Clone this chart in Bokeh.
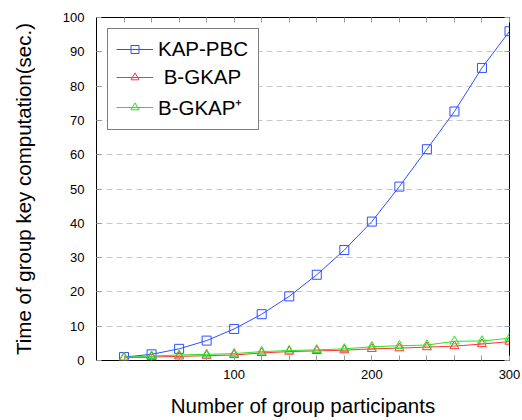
from bokeh.plotting import figure
from bokeh.models import Range1d, FixedTicker, LinearAxis, CustomLabelingPolicy
from bokeh.embed import file_html
from bokeh.resources import INLINE

participants = [20, 40, 60, 80, 100, 120, 140, 160, 180, 200, 220, 240, 260, 280, 300]
kap_pbc = [1.0, 1.8, 3.4, 5.8, 9.2, 13.5, 18.7, 25.0, 32.2, 40.5, 50.7, 61.6, 72.6, 85.3, 96.0]
b_gkap = [0.8, 1.0, 1.2, 1.4, 1.6, 2.2, 2.6, 2.8, 3.0, 3.4, 3.6, 3.9, 4.2, 4.8, 5.5]
b_gkap_plus = [0.9, 1.3, 1.6, 1.8, 2.0, 2.6, 2.9, 3.1, 3.4, 4.0, 4.3, 4.5, 5.6, 5.7, 6.5]

x_major_ticks = [100, 200, 300]
x_minor_ticks = [20, 40, 60, 80, 120, 140, 160, 180, 220, 240, 260, 280]
y_ticks = [0, 10, 20, 30, 40, 50, 60, 70, 80, 90, 100]

FONT = "Liberation Sans"

p = figure(width=522, height=420, output_backend="svg", toolbar_location=None,
           x_range=Range1d(0, 300), y_range=Range1d(0, 100),
           min_border_left=96, min_border_right=13, min_border_top=17, min_border_bottom=60)
p.background_fill_color = "white"
p.border_fill_color = "white"
p.outline_line_color = "#000000"
p.outline_line_width = 1

p.xgrid.grid_line_color = None
p.ygrid.ticker = FixedTicker(ticks=y_ticks)
p.ygrid.grid_line_color = "#c8c8c8"
p.ygrid.grid_line_dash = "6 4"
p.ygrid.grid_line_width = 1

def style_axis(ax, ticker, show_labels):
    ax.ticker = ticker
    ax.axis_line_color = None
    ax.major_tick_in = 5
    ax.major_tick_out = 0
    ax.minor_tick_in = 5
    ax.minor_tick_out = 0
    ax.major_tick_line_color = "#999999"
    ax.minor_tick_line_color = "#999999"
    ax.major_tick_line_width = 1
    ax.minor_tick_line_width = 1
    ax.major_label_text_font = FONT
    ax.major_label_text_color = "#000000"
    ax.axis_label_text_font = FONT
    ax.axis_label_text_font_style = "normal"
    ax.axis_label_text_color = "#000000"
    if not show_labels:
        ax.major_label_text_font_size = "1px"
        ax.major_label_standoff = 0
        ax.major_label_policy = CustomLabelingPolicy(
            code="for (const i of indices) { indices.unset(i) } return indices")

def x_ticker():
    return FixedTicker(ticks=x_major_ticks, minor_ticks=x_minor_ticks)

def y_ticker():
    return FixedTicker(ticks=y_ticks, minor_ticks=[])

# bottom axis
xa = p.xaxis[0]
style_axis(xa, x_ticker(), True)
xa.major_label_text_font_size = "13px"
xa.major_label_standoff = 9
xa.axis_label = "Number of group participants"
xa.axis_label_text_font_size = "20.5px"
xa.axis_label_standoff = 12

# left axis
ya = p.yaxis[0]
style_axis(ya, y_ticker(), True)
ya.major_label_text_font_size = "13px"
ya.major_label_standoff = 12
ya.axis_label = "Time of group key computation(sec.)"
ya.axis_label_text_font_size = "20.5px"
ya.axis_label_standoff = 25

# top and right axes (ticks only)
top = LinearAxis()
style_axis(top, x_ticker(), False)
p.add_layout(top, "above")
right = LinearAxis()
style_axis(right, y_ticker(), False)
p.add_layout(right, "right")

BLUE = "#2f4fff"
RED = "#ff3333"
GREEN = "#22e622"

p.line(participants, kap_pbc, color=BLUE, line_width=1, legend_label="KAP-PBC")
p.scatter(participants, kap_pbc, marker="square", size=9, line_color=BLUE, fill_color=None,
          line_width=1, legend_label="KAP-PBC")
p.line(participants, b_gkap, color=RED, line_width=1, legend_label="\u00a0B-GKAP")
p.scatter(participants, b_gkap, marker="triangle", size=9, line_color=RED, fill_color=None,
          line_width=1, legend_label="\u00a0B-GKAP")
p.line(participants, b_gkap_plus, color=GREEN, line_width=1, legend_label="B-GKAP\u207a")
p.scatter(participants, b_gkap_plus, marker="triangle", size=9, line_color=GREEN, fill_color=None,
          line_width=1, legend_label="B-GKAP\u207a")

lg = p.legend[0]
lg.location = "top_left"
lg.margin = 11
lg.padding = 8
lg.spacing = 4
lg.glyph_width = 37
lg.glyph_height = 20
lg.label_standoff = 5
lg.label_width = 92
lg.label_text_font = FONT
lg.label_text_font_size = "20.5px"
lg.label_text_color = "#000000"
lg.border_line_color = "#000000"
lg.border_line_width = 1
lg.background_fill_color = "white"
lg.background_fill_alpha = 1.0

open("out.html", "w").write(file_html(p, INLINE))
